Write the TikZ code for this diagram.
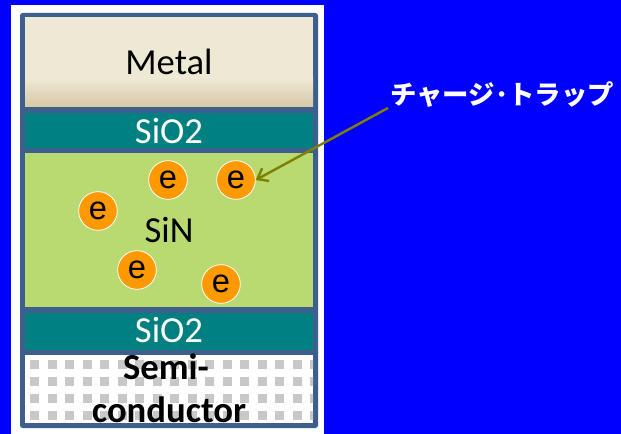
\documentclass[tikz,border=0pt]{standalone}
\usepackage{fontspec}
\setmainfont{Carlito}
\newfontfamily\jpfont{Noto Sans CJK JP}
\newfontfamily\efont{Liberation Sans}
\usetikzlibrary{arrows.meta,shadings}
\definecolor{bgblue}{HTML}{0000FF}
\definecolor{framec}{HTML}{3D5F8E}
\definecolor{metaltop}{HTML}{EEE9D4}
\definecolor{metalbot}{HTML}{D6C7A6}
\definecolor{teal2}{HTML}{008080}
\definecolor{sinc}{HTML}{B9D971}
\definecolor{orangee}{HTML}{FF9900}
\definecolor{olivec}{HTML}{808000}
\definecolor{sqgray}{HTML}{C8C8C8}
\tikzset{
  lbl/.style={font=\fontsize{27.5}{32}\selectfont, anchor=base},
  elec/.style={circle, fill=orangee, draw=white, line width=0.6pt, minimum size=29pt, inner sep=0pt, font=\efont\fontsize{24.5}{28}\selectfont},
  sq/.style={fill=sqgray, draw=none},
}
\begin{document}
\begin{tikzpicture}[x=0.75pt,y=-0.75pt]
\useasboundingbox (0,0) rectangle (621,434);
\fill[bgblue] (0,0) rectangle (621,434);
\fill[white] (11,5) rectangle (324,434);
\fill[framec, rounded corners=2pt] (20,13) rectangle (318,428);
% Metal with gradient
\fill[metaltop] (25,17) rectangle (313,78);
\shade[top color=metaltop, bottom color=metalbot] (25,78) rectangle (313,107);
\fill[teal2] (25,113) rectangle (313,148);
\fill[sinc] (25,153) rectangle (313,307);
\fill[teal2] (25,313) rectangle (313,350);
\fill[white] (25,355) rectangle (313,423);
\begin{scope}
\clip (25,355) rectangle (313,423);
\foreach \i in {0,...,16} {
  \foreach \j in {0,...,3} {
    \fill[sq] ({30+17.5*\i},{360+17*\j}) rectangle ++(9,9);
  }
}
\end{scope}
% labels
\node[lbl] (metal) at (169,75) {Metal};
\node[lbl, text=white] (sio2a) at (169,144) {SiO2};
\node[lbl] (sin) at (169,243) {SiN};
\node[lbl, text=white] (sio2b) at (169,343) {SiO2};
\node[lbl, font=\bfseries\fontsize{27.5}{32}\selectfont] (semi1) at (166,380) {Semi-};
\node[lbl, font=\bfseries\fontsize{27.5}{32}\selectfont] (semi2) at (169,422) {conductor};
% electrons
\node[elec] (e1) at (168,180) {e};
\node[elec] (e2) at (236,180) {e};
\node[elec] (e3) at (98,211) {e};
\node[elec] (e4) at (137,270) {e};
\node[elec] (e5) at (221,284) {e};
% label and arrow
\node[anchor=west, text=white, font=\jpfont\bfseries\fontsize{19.8}{22}\selectfont, inner sep=0pt] (trap) at (390,95) {チャージ･トラップ};
\coordinate (astart) at (388,108);
\draw[olivec, line width=1.8pt, -{Straight Barb[length=7pt,width=11pt]}] (astart) -- (e2.east);
\end{tikzpicture}
\end{document}
